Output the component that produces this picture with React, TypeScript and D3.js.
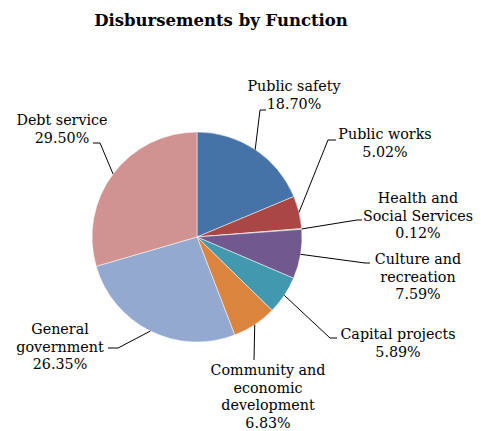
import React from "react";
import * as d3 from "d3";

const categories = [
  "Public safety",
  "Public works",
  "Health and Social Services",
  "Culture and recreation",
  "Capital projects",
  "Community and economic development",
  "General government",
  "Debt service",
];
const values = [18.7, 5.02, 0.12, 7.59, 5.89, 6.83, 26.35, 29.5];
const colors = ["#4572A7", "#AA4643", "#89A54E", "#71588F", "#4198AF", "#DB843D", "#93A9CF", "#D19392"];

// label layout: wrapped lines, text center x, first line center y, elbow, end of leader
const labelLayout = [
  { lines: ["Public safety"], cx: 294, cy: 86, elbow: [260, 110], end: [266, 110] },
  { lines: ["Public works"], cx: 385, cy: 134, elbow: [328, 140], end: [336, 140] },
  { lines: ["Health and", "Social Services"], cx: 418, cy: 198, elbow: [357, 220], end: [362, 220] },
  { lines: ["Culture and", "recreation"], cx: 418, cy: 259, elbow: [365, 263], end: [370, 263] },
  { lines: ["Capital projects"], cx: 398, cy: 334, elbow: [330, 338], end: [337, 338] },
  { lines: ["Community and", "economic", "development"], cx: 268, cy: 370, elbow: null, end: [254, 360] },
  { lines: ["General", "government"], cx: 60, cy: 329, elbow: [118, 348], end: [108, 348] },
  { lines: ["Debt service"], cx: 62, cy: 120, elbow: [100, 143], end: [93, 143] },
];

const W = 481, H = 431;
const CX = 197, CY = 237, R = 105;
const LH = 17.6;
const FONT = "'DejaVu Serif', serif";

export default function App() {
  const pie = d3.pie<number>().sort(null).value((d) => d)(values);
  const arc = d3.arc<d3.PieArcDatum<number>>().innerRadius(0).outerRadius(R);
  return (
    <svg width={W} height={H} style={{ position: "absolute", left: 0, top: 0, background: "#fff" }}>
      <text x={221} y={26} textAnchor="middle" fontFamily={FONT} fontWeight="bold" fontSize={16.5}>
        Disbursements by Function
      </text>
      <g transform={`translate(${CX},${CY})`}>
        {pie.map((p, i) => (
          <path key={i} d={arc(p) || ""} fill={colors[i]} stroke="#fff" strokeWidth={0.5} />
        ))}
      </g>
      {pie.map((p, i) => {
        const L = labelLayout[i];
        const a = (p.startAngle + p.endAngle) / 2;
        const sx = CX + R * Math.sin(a);
        const sy = CY - R * Math.cos(a);
        const pts = [[sx, sy], ...(L.elbow ? [L.elbow] : []), L.end];
        const lines = [...L.lines, `${values[i].toFixed(2)}%`];
        return (
          <g key={i}>
            <polyline points={pts.map((q) => q.join(",")).join(" ")} fill="none" stroke="#000" strokeWidth={1} />
            <text textAnchor="middle" fontFamily={FONT} fontSize={14.3} fill="#000">
              {lines.map((t, j) => (
                <tspan key={j} x={L.cx} y={L.cy + j * LH} dy="0.35em">{t}</tspan>
              ))}
            </text>
          </g>
        );
      })}
    </svg>
  );
}
